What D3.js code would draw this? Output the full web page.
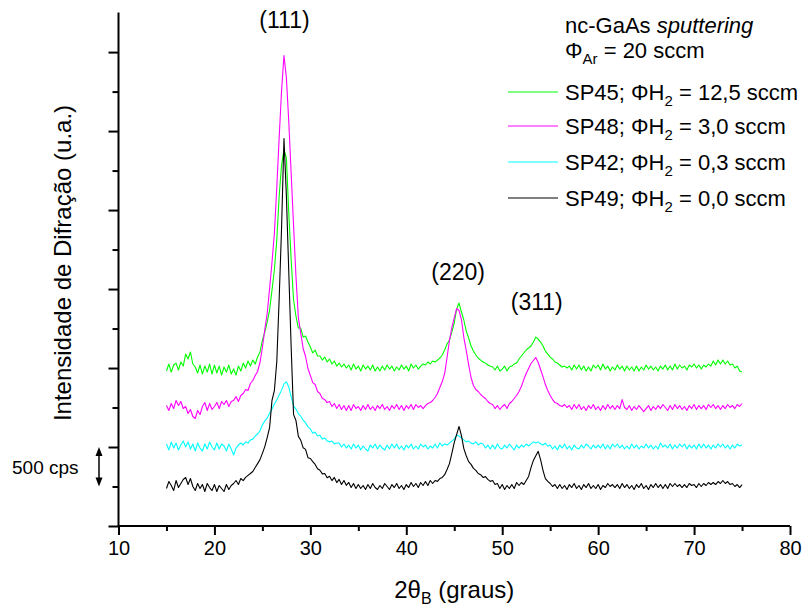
<!DOCTYPE html>
<html><head><meta charset="utf-8">
<script src="https://cdn.jsdelivr.net/npm/d3@7"></script>
<style>body{margin:0;background:#fff}svg{display:block;font-family:"Liberation Sans",Arial,sans-serif}</style>
</head><body><svg id="c" width="806" height="608"></svg>
<script>
// 2theta grid: 15..75 step 0.25
const thetaStart = 15, thetaStep = 0.25;
const seriesNames = ["SP45", "SP48", "SP42", "SP49"];
const h2Flow = ["12,5", "3,0", "0,3", "0,0"];
const seriesColors = ["#00ff00", "#ff00ff", "#00ffff", "#000000"];
const seriesOffsets = [1500, 1000, 500, 0]; // vertical shift (cps)
const xTicks = [10, 20, 30, 40, 50, 60, 70, 80];
const xMinorTicks = [15, 25, 35, 45, 55, 65, 75];
const yTicks = [0, 1000, 2000, 3000, 4000, 5000, 6000];
const yMinorTicks = [500, 1500, 2500, 3500, 4500, 5500];
const peakLabels = ["(111)", "(220)", "(311)"];
const peakTheta = [27.3, 45.4, 53.6];
const peakLabelCps = [6300, 3120, 2740];

const sp45 = [
462,551,449,538, 563,475,576,525, 677,614,703,551, 513,437,538,424, 525,449,551,424,
538,437,525,411, 513,449,538,424, 487,411,525,462, 563,500,589,525, 601,551,640,703,
854,956,1082,1234, 1487,1741,2120,2678, 3070,3260,3159,2462, 1867,1361,1158,1006, 1006,892,905,829,
766,690,728,652, 652,601,640,576, 614,551,589,525, 563,513,551,500, 538,475,551,487,
525,462,538,487, 525,475,538,462, 513,462,525,475, 538,487,525,462, 513,475,538,487,
525,462,551,500, 538,487,525,551, 538,576,551,589, 576,601,627,665, 728,804,854,956,
1070,1247,1323,1209, 1108,968,880,779, 715,665,627,601, 576,563,538,525, 513,475,525,462,
487,525,462,513, 525,551,563,614, 652,690,728,753, 779,829,892,867, 829,779,715,677,
639,614,576,563, 538,513,525,500, 525,475,538,487, 538,475,525,462, 513,462,538,500,
538,475,551,487, 525,462,513,475, 538,487,525,462, 525,475,513,462, 525,462,513,475,
538,487,525,475, 513,462,525,487, 538,475,525,475, 551,487,538,500, 525,475,538,513,
551,500,538,487, 538,513,551,525, 589,538,601,551, 601,551,589,538, 551,500,525,462,
449];

const sp48 = [
525,462,551,487, 589,525,576,487, 513,424,475,386, 361,462,411,513, 563,462,551,475,
513,563,487,576, 538,589,513,576, 589,639,576,652, 677,728,715,804, 842,905,956,1070,
1260,1487,1690,2007, 2336,2703,3285,3918, 4513,4956,4678,4121, 3462,2804,2158,1639, 1438,1247,1146,994,
905,816,791,703, 677,614,601,563, 576,513,551,487, 538,475,525,462, 525,462,538,487,
513,462,525,475, 538,475,513,462, 525,487,538,475, 513,462,525,487, 538,475,525,462,
525,487,538,475, 538,500,525,487, 525,551,563,589, 627,677,753,829, 930,1133,1348,1513,
1639,1753,1728,1614, 1386,1222,1044,880, 779,728,703,665, 639,614,576,551, 538,487,525,475,
513,538,487,551, 576,614,652,703, 766,854,930,994, 1057,1095,1133,1070, 981,892,791,715,
652,601,563,551, 525,513,538,500, 525,475,538,487, 538,475,513,462, 525,487,538,475,
513,462,525,475, 538,487,525,475, 525,487,601,500, 475,525,462,513, 475,525,487,449,
487,525,462,513, 475,525,487,538, 500,462,525,475, 538,487,525,475, 513,462,525,487,
538,475,525,487, 525,475,538,500, 538,487,525,475, 525,487,538,500, 525,487,538,513,
551];

const sp42 = [
538,462,563,487, 551,462,525,576, 500,563,475,538, 449,551,487,449, 538,475,563,500,
462,551,475,538, 513,449,538,475, 399,487,525,551, 525,565,550,590, 600,640,665,705,
780,830,865,930, 980,1045,1095,1160, 1220,1300,1325,1260, 1135,1020,980,920, 890,840,805,755,
730,675,690,640, 650,600,615,575, 565,575,540,550, 551,500,538,487, 525,475,538,487,
525,462,513,475, 449,525,487,538, 475,525,487,462, 525,475,538,487, 538,475,513,462,
525,487,538,475, 513,475,538,500, 525,475,513,487, 538,487,551,513, 540,525,550,575,
600,650,640,615, 590,565,575,550, 540,565,525,550, 538,487,525,475, 525,475,538,487,
475,525,487,538, 500,462,525,487, 525,500,538,513, 540,565,550,565, 540,525,550,510,
525,475,513,462, 525,487,538,475, 513,462,525,487, 475,525,487,538, 513,475,525,487,
525,487,538,475, 525,475,538,500, 538,487,525,475, 513,475,538,487, 525,475,513,487,
538,487,525,475, 513,475,551,500, 525,487,538,475, 525,487,538,500, 538,475,525,487,
525,475,538,487, 538,487,525,475, 525,487,538,500, 538,487,525,475, 525,487,538,513,
525];

const sp49 = [
475,563,513,449, 576,487,538,589, 614,525,601,500, 449,538,475,525, 437,538,487,449,
525,437,513,475, 437,525,462,513, 538,576,525,601, 575,615,640,665, 690,740,790,840,
920,1005,1120,1245, 1590,1715,2080,2880, 3780,4905,4185,3220, 2260,1410,1335,1135, 1085,990,970,865,
855,815,780,725, 705,660,665,610, 630,575,615,550, 590,525,575,515, 551,487,538,475,
525,475,513,462, 525,475,538,487, 462,513,475,538, 500,462,525,487, 538,475,513,462,
525,487,551,500, 538,487,551,513, 563,513,576,538, 575,565,600,615, 650,715,790,920,
1055,1160,1260,1145, 980,890,815,780, 730,705,665,650, 615,625,590,565, 576,525,538,475,
525,462,513,475, 525,475,551,513, 551,525,576,627, 740,830,890,945, 840,705,600,565,
538,500,525,475, 525,475,513,462, 525,487,538,475, 513,462,525,487, 538,475,513,475,
525,462,513,487, 538,500,525,487, 525,475,538,487, 525,475,513,462, 525,487,538,475,
513,462,525,487, 538,487,525,475, 525,475,538,500, 538,500,525,487, 525,487,538,513,
525,487,538,500, 538,513,551,525, 551,525,563,538, 576,538,563,525, 538,500,525,487,
525];

const seriesData = [sp45, sp48, sp42, sp49];

const svg = d3.select("#c");
const x = d3.scaleLinear().domain([10, 80]).range([118.5, 790]);
const y = d3.scaleLinear().domain([0, 6500]).range([526, 12.6]);

// curves
const line = d3.line().x(d => x(d[0])).y(d => y(d[1]));
seriesData.forEach((arr, s) => {
  const pts = arr.map((v, i) => [thetaStart + i * thetaStep, v + seriesOffsets[s]]);
  svg.append("path").datum(pts).attr("d", line)
    .attr("fill", "none").attr("stroke", seriesColors[s]).attr("stroke-width", 1.1)
    .attr("stroke-linejoin", "round");
});

// axes
const axStroke = 2;
const gx = svg.append("g").attr("transform", `translate(0,${y(0)})`)
  .call(d3.axisBottom(x).tickValues(xTicks).tickSize(9).tickPadding(6).tickFormat(d3.format("d")));
const gxm = svg.append("g").attr("transform", `translate(0,${y(0)})`)
  .call(d3.axisBottom(x).tickValues(xMinorTicks).tickSize(5).tickFormat(""));
const gy = svg.append("g").attr("transform", `translate(${x(10)},0)`)
  .call(d3.axisLeft(y).tickValues(yTicks).tickSize(10).tickFormat(""));
const gym = svg.append("g").attr("transform", `translate(${x(10)},0)`)
  .call(d3.axisLeft(y).tickValues(yMinorTicks).tickSize(6).tickFormat(""));
[gx, gxm, gy, gym].forEach(g => {
  g.selectAll("path.domain").attr("stroke", "#000").attr("stroke-width", axStroke);
  g.selectAll(".tick line").attr("stroke", "#000").attr("stroke-width", axStroke);
});
gxm.select("path.domain").remove();
gym.select("path.domain").remove();
gx.select("path.domain").attr("d", `M${x(10)},0H${x(80)}`);
gy.select("path.domain").attr("d", `M0,${y(6500)}V${y(0)}`);
gx.selectAll(".tick text").attr("font-size", 20).attr("font-family", "Liberation Sans, Arial, sans-serif").attr("fill", "#000");

// axis titles
const xt = svg.append("text").attr("x", x(45)).attr("y", 598).attr("text-anchor", "middle")
  .attr("font-size", 24).attr("fill", "#000");
xt.append("tspan").text("2θ");
xt.append("tspan").attr("font-size", 16).attr("dy", 6).text("B");
xt.append("tspan").attr("dy", -6).text(" (graus)");

svg.append("text").attr("transform", `translate(71,${263}) rotate(-90)`)
  .attr("text-anchor", "middle").attr("font-size", 24).attr("fill", "#000")
  .text("Intensidade de Difração (u.a.)");

// peak labels
peakLabels.forEach((t, i) => {
  svg.append("text").attr("x", x(peakTheta[i])).attr("y", y(peakLabelCps[i]))
    .attr("text-anchor", "middle").attr("font-size", 23).attr("fill", "#000").text(t);
});

// 500 cps scale bar
const ax = 99;
const y1 = y(1000), y0 = y(500);
svg.append("line").attr("x1", ax).attr("x2", ax).attr("y1", y1 + 4).attr("y2", y0 - 4)
  .attr("stroke", "#000").attr("stroke-width", 1.5);
svg.append("path").attr("d", `M${ax},${y1}L${ax - 3.5},${y1 + 9}L${ax + 3.5},${y1 + 9}Z`).attr("fill", "#000");
svg.append("path").attr("d", `M${ax},${y0}L${ax - 3.5},${y0 - 9}L${ax + 3.5},${y0 - 9}Z`).attr("fill", "#000");
svg.append("text").attr("x", 12).attr("y", (y1 + y0) / 2 + 7).attr("font-size", 19).attr("fill", "#000").text("500 cps");

// legend header
const lx = 565;
const h1 = svg.append("text").attr("x", lx).attr("y", 33).attr("font-size", 22).attr("fill", "#000");
h1.append("tspan").text("nc-GaAs ");
h1.append("tspan").attr("font-style", "italic").text("sputtering");
const h2 = svg.append("text").attr("x", lx).attr("y", 58).attr("font-size", 22).attr("fill", "#000");
h2.append("tspan").text("Φ");
h2.append("tspan").attr("font-size", 15).attr("dy", 6).text("Ar");
h2.append("tspan").attr("dy", -6).text(" = 20 sccm");

// legend entries
const legY = [92, 126, 162, 198];
seriesNames.forEach((n, i) => {
  svg.append("line").attr("x1", 508).attr("x2", 558).attr("y1", legY[i]).attr("y2", legY[i])
    .attr("stroke", seriesColors[i]).attr("stroke-width", 1.1);
  const t = svg.append("text").attr("x", lx).attr("y", legY[i] + 8).attr("font-size", 22).attr("fill", "#000");
  t.append("tspan").text(n + "; ΦH");
  t.append("tspan").attr("font-size", 15).attr("dy", 6).text("2");
  t.append("tspan").attr("dy", -6).text(" = " + h2Flow[i] + " sccm");
});
</script></body></html>
